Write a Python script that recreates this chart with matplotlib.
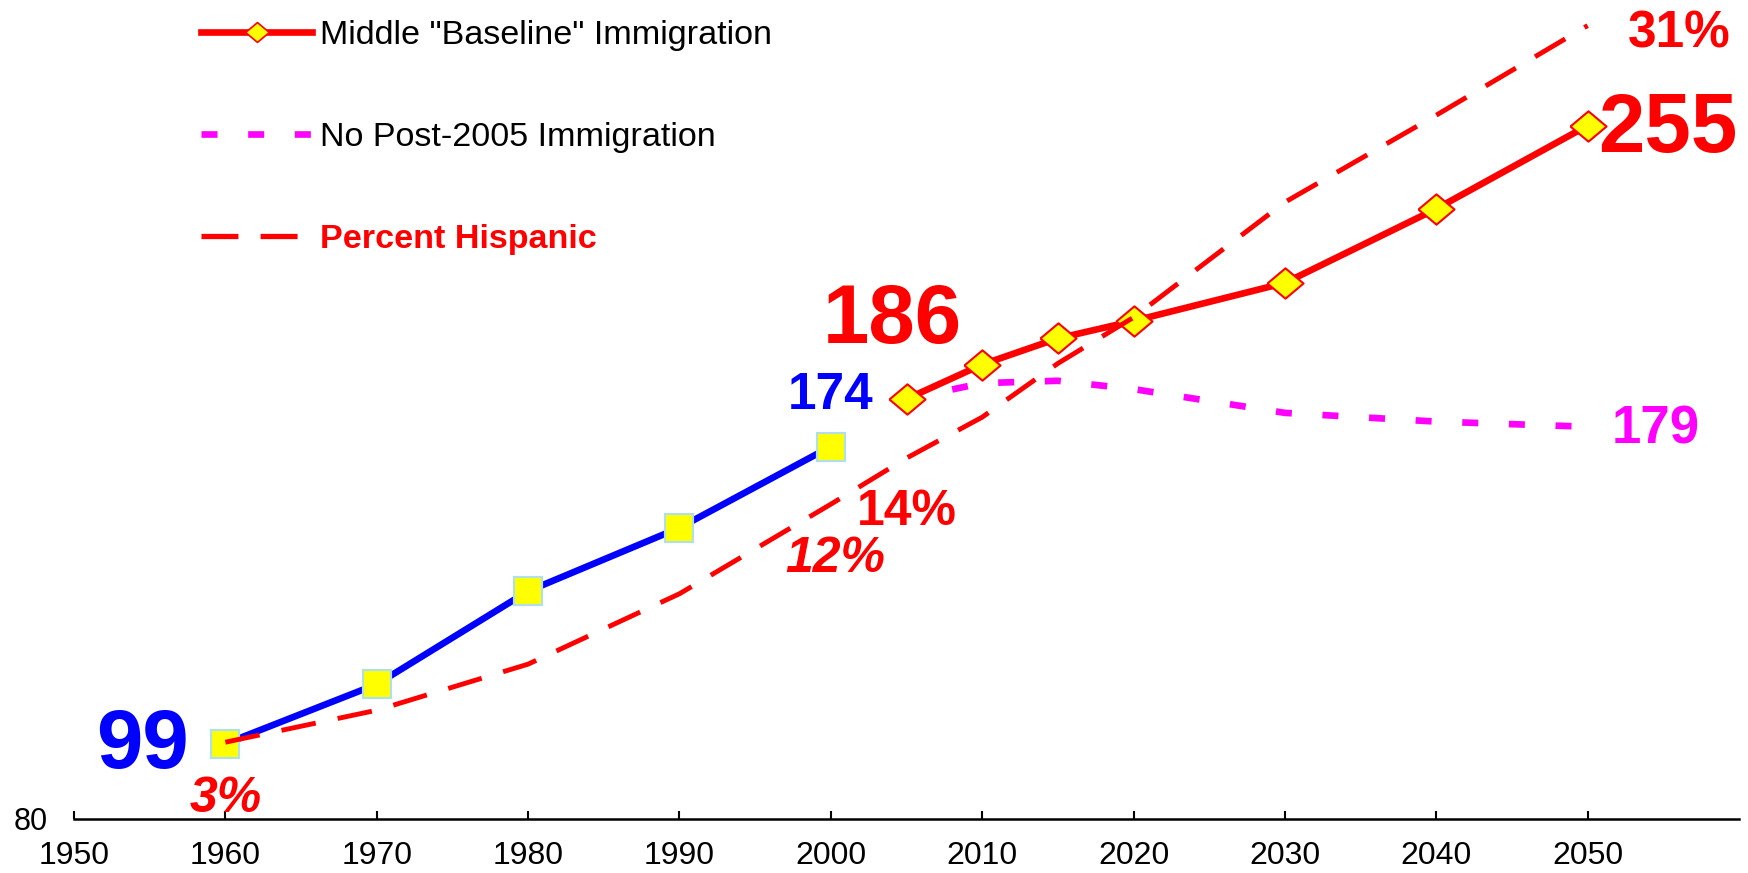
import numpy as np
import matplotlib
matplotlib.use("Agg")
import matplotlib.pyplot as plt
from matplotlib.lines import Line2D

plt.rcParams["font.family"] = ["Liberation Sans", "DejaVu Sans"]

# population, millions (observed then projected)
years_obs = [1960, 1970, 1980, 1990, 2000]
pop_obs = [99, 114, 137.5, 153.5, 174]

years_proj = [2005, 2010, 2015, 2020, 2030, 2040, 2050]
pop_baseline = [186, 194.7, 201.3, 205.7, 215.3, 234, 255]
pop_no_imm = [186, 190, 190.6, 188.5, 182.5, 180.3, 179]

# percent hispanic (right scale, hidden)
hisp_years = [1960, 1970, 1980, 1990, 2000, 2005, 2010, 2015, 2020, 2030, 2040, 2050]
pct_hispanic = [3, 4.25, 6.05, 8.8, 12.3, 14.1, 15.7, 17.8, 19.6, 24.1, 27.5, 31]

xticks = list(range(1950, 2051, 10))

RED = "#FF0000"
BLUE = "#0000FF"
MAGENTA = "#FF00FF"
YELLOW = "#FFFF00"
DIAMOND = [(-1, 0), (0, 0.84), (1, 0), (0, -0.84), (-1, 0)]

fig = plt.figure(figsize=(17.48, 8.73), dpi=100)
ax = fig.add_axes([74 / 1748, 54 / 873, 1665 / 1748, 819 / 873])

ax.plot(years_obs, pop_obs, color=BLUE, lw=4.8, marker="s", markersize=20,
        markerfacecolor=YELLOW, markeredgecolor="#B0E0E6", markeredgewidth=1.6, zorder=3)
ax.plot(years_proj, pop_no_imm, color=MAGENTA, lw=4.8, dashes=(2.4, 4.6),
        dash_capstyle="butt", zorder=2)
ax.plot(years_proj, pop_baseline, color=RED, lw=4.8, marker=DIAMOND, markersize=26,
        markerfacecolor=YELLOW, markeredgecolor=RED, markeredgewidth=1.5, zorder=4)

ax.set_xlim(1950, 2060)
ax.set_ylim(80, 286.7)
ax.set_xticks(xticks)
ax.set_yticks([80])
ax.tick_params(axis="x", direction="in", length=5.8, width=1.5, pad=16, labelsize=23)
ax.tick_params(axis="y", length=0, pad=19, labelsize=22)
for s in ["top", "right", "left"]:
    ax.spines[s].set_visible(False)
ax.spines["bottom"].set_linewidth(1.8)

ax2 = ax.twinx()
ax2.plot(hisp_years, pct_hispanic, color=RED, lw=3.5, dashes=(7.2, 4.6), zorder=5)
ax2.set_ylim(0, 32)
ax2.set_yticks([])
for s in ax2.spines.values():
    s.set_visible(False)


def label(axis, x, y, text, dx, dy, color, size, style="normal"):
    axis.annotate(text, xy=(x, y), xytext=(dx, dy), textcoords="offset points",
                  ha="center", va="center", color=color, fontsize=size,
                  fontweight="bold", fontstyle=style)


label(ax, years_obs[0], pop_obs[0], f"{pop_obs[0]:.0f}", -60, -2, BLUE, 60)
label(ax, years_obs[-1], pop_obs[-1], f"{pop_obs[-1]:.0f}", 0, 37, BLUE, 37)
label(ax, years_proj[0], pop_baseline[0], f"{pop_baseline[0]:.0f}", -10, 56, RED, 60)
label(ax, years_proj[-1], pop_baseline[-1], f"{pop_baseline[-1]:.0f}", 58, -3, RED, 60)
label(ax, years_proj[-1], pop_no_imm[-1], f"{pop_no_imm[-1]:.0f}", 49, -2, MAGENTA, 38)
label(ax2, hisp_years[0], pct_hispanic[0], f"{pct_hispanic[0]:.0f}%", 0, -41, RED, 36, "italic")
label(ax2, hisp_years[4], pct_hispanic[4], f"{pct_hispanic[4]:.0f}%", 3, -39.5, RED, 36, "italic")
label(ax2, hisp_years[5], pct_hispanic[5], f"{pct_hispanic[5]:.0f}%", 0, -38.5, RED, 36)
label(ax2, hisp_years[-1], pct_hispanic[-1], f"{pct_hispanic[-1]:.0f}%", 66, -6, RED, 37)

handles = [
    Line2D([], [], color=RED, lw=4.8, marker=DIAMOND, markersize=17,
           markerfacecolor=YELLOW, markeredgecolor=RED, markeredgewidth=1.2),
    Line2D([], [], color=MAGENTA, lw=4.8, dashes=(2.4, 4.6)),
    Line2D([], [], color=RED, lw=3.8, dashes=(7.0, 4.2)),
]
names = ['Middle "Baseline" Immigration', "No Post-2005 Immigration", "Percent Hispanic"]
leg = ax2.legend(handles, names, loc="upper left", bbox_to_anchor=(201 / 1748, 1 - 20 / 873),
                 bbox_transform=fig.transFigure, frameon=False, fontsize=24.6, numpoints=1,
                 handlelength=3.25, handletextpad=0.23, labelspacing=2.08,
                 borderaxespad=0, borderpad=0)
leg.get_texts()[2].set_color(RED)
leg.get_texts()[2].set_fontweight("bold")

fig.savefig("out.png", dpi=100)
